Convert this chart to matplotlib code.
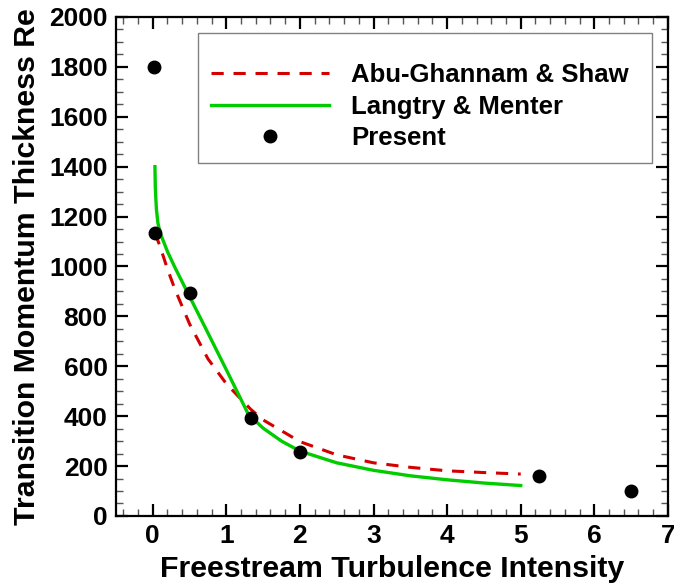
import matplotlib
matplotlib.use('Agg')
import matplotlib.pyplot as plt
from matplotlib.ticker import MultipleLocator

plt.rcParams['font.family'] = ['Liberation Sans', 'DejaVu Sans']
plt.rcParams['font.weight'] = 'bold'

# Abu-Ghannam & Shaw correlation
ags_tu = [0.03, 0.1, 0.2, 0.3, 0.5, 0.75, 1.0, 1.33, 1.5, 2.0, 2.5, 3.0, 3.5, 4.0, 4.5, 5.0]
ags_re = [1135, 1080, 990, 910, 770, 630, 530, 428, 385, 298, 245, 213, 195, 181, 174, 168]

# Langtry & Menter correlation
lm_tu = [0.03, 0.035, 0.04, 0.05, 0.07, 0.1, 0.2, 0.3, 0.5, 0.7, 1.0, 1.3, 1.5, 1.75, 2.0, 2.5, 3.0, 3.5, 4.0, 4.5, 5.0]
lm_re = [1400, 1320, 1285, 1230, 1175, 1135, 1060, 997, 880, 763, 586, 407, 352, 300, 260, 213, 183, 161, 145, 132, 122]

# present results
pr_tu = [0.02, 0.03, 0.5, 1.33, 2.0, 5.25, 6.5]
pr_re = [1800, 1135, 893, 393, 255, 162, 100]

fig = plt.figure(figsize=(6.74, 5.86), dpi=100)
ax = fig.add_axes([0.172, 0.1195, 0.819, 0.8515])

ax.plot(ags_tu, ags_re, color='#d40000', lw=2.2, dashes=(4, 3.2), label='Abu-Ghannam & Shaw')
ax.plot(lm_tu, lm_re, color='#00cc00', lw=2.4, label='Langtry & Menter')
ax.plot(pr_tu, pr_re, 'o', color='black', ms=9, label='Present')

ax.set_xlim(-0.5, 7)
ax.set_ylim(0, 2000)
ax.xaxis.set_major_locator(MultipleLocator(1))
ax.xaxis.set_minor_locator(MultipleLocator(0.2))
ax.yaxis.set_major_locator(MultipleLocator(200))
ax.yaxis.set_minor_locator(MultipleLocator(50))
ax.tick_params(which='both', direction='in', top=True, right=True)
ax.tick_params(which='major', length=8.5, width=1.6, labelsize=19, pad=6)
ax.tick_params(which='minor', length=5, width=1.0, color='#555555')
for s in ax.spines.values():
    s.set_linewidth(1.6)

ax.set_xlabel('Freestream Turbulence Intensity', fontsize=21.8, fontweight='bold', labelpad=5)
ax.set_ylabel('Transition Momentum Thickness Re', fontsize=21.8, fontweight='bold', labelpad=6)

leg = ax.legend(loc='upper left', bbox_to_anchor=(0.1486, 0.707, 0.8225, 0.261), mode='expand',
                borderaxespad=0, fontsize=18.5,
                frameon=True, fancybox=False, edgecolor='#808080', framealpha=1,
                numpoints=1, handlelength=4.6, handletextpad=0.86, labelspacing=0.29,
                borderpad=0.5, title=' ', title_fontsize=7)
leg.get_frame().set_linewidth(1.0)

fig.savefig('out.png', dpi=100)
